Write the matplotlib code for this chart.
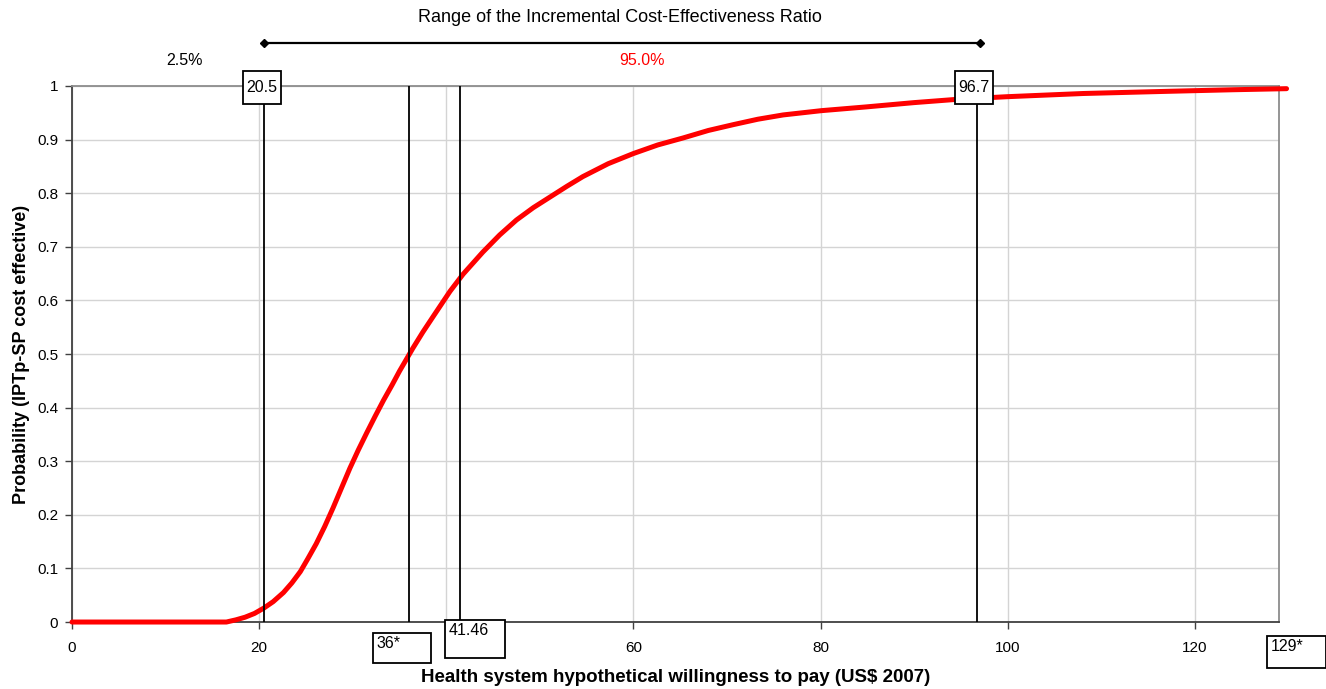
import matplotlib
matplotlib.use("Agg")
import matplotlib.pyplot as plt
from matplotlib.patches import Rectangle
from matplotlib.transforms import ScaledTranslation

plt.rcParams["font.family"] = ["Liberation Sans", "DejaVu Sans"]

# acceptability curve
wtp = [0, 16.5, 17.5, 18.5, 19.5, 20.5, 21.5, 22.6, 23.5, 24.4, 25.2, 26.1,
       27.0, 27.9, 28.8, 29.7, 30.6, 31.5, 32.4, 33.3, 34.2, 35.0, 36.4, 37.5,
       38.6, 40.4, 41.8, 43.9, 45.7, 47.5, 49.3, 51.1, 52.9, 54.6, 57.3, 60.0,
       62.6, 65.3, 68.0, 70.7, 73.3, 76.0, 80.1, 84.9, 90.0, 94.5, 99.9,
       108.1, 117.0, 124.1, 129.8]
prob = [0, 0, 0.004, 0.009, 0.016, 0.026, 0.038, 0.055, 0.073, 0.094, 0.118,
        0.146, 0.178, 0.213, 0.250, 0.287, 0.321, 0.353, 0.384, 0.414, 0.442,
        0.468, 0.510, 0.541, 0.570, 0.617, 0.649, 0.690, 0.722, 0.750, 0.773,
        0.793, 0.813, 0.831, 0.855, 0.874, 0.890, 0.903, 0.917, 0.928, 0.938,
        0.946, 0.954, 0.961, 0.969, 0.975, 0.980, 0.986, 0.990, 0.993, 0.995]

ci_low, ci_high = 20.5, 96.7
thresholds = [36, 41.46]
x_max = 129
x_ticks = [0, 20, 40, 60, 80, 100, 120]
x_ticklabels = ["0", "20", "", "60", "80", "100", "120"]
y_ticks = [0, 0.1, 0.2, 0.3, 0.4, 0.5, 0.6, 0.7, 0.8, 0.9, 1]
y_ticklabels = ["0", "0.1", "0.2", "0.3", "0.4", "0.5", "0.6", "0.7", "0.8", "0.9", "1"]

fig = plt.figure(figsize=(13.26, 6.89), dpi=100)
ax = fig.add_axes([0.0543, 0.0972, 0.9103, 0.7780])

ax.set_xlim(0, x_max)
ax.set_ylim(0, 1)
ax.set_xticks(x_ticks)
ax.set_xticklabels(x_ticklabels)
ax.set_yticks(y_ticks)
ax.set_yticklabels(y_ticklabels)
ax.tick_params(direction="out", length=5, width=1, color="#404040",
               labelsize=11, pad=9)
ax.tick_params(axis="y", pad=5)
ax.grid(True, color="#d4d4d4", lw=1)
ax.set_axisbelow(True)
for side in ["left", "bottom"]:
    ax.spines[side].set_color("#404040")
    ax.spines[side].set_linewidth(1.3)
for side in ["top", "right"]:
    ax.spines[side].set_color("#8c8c8c")
    ax.spines[side].set_linewidth(1.3)

ax.plot(wtp, prob, color="red", lw=3.6, solid_capstyle="round",
        solid_joinstyle="round", clip_on=False, zorder=3)

for xv in [ci_low, ci_high] + thresholds:
    ax.plot([xv, xv], [0, 1], color="black", lw=1.3, zorder=4)

ax.set_xlabel("Health system hypothetical willingness to pay (US$ 2007)",
              fontsize=13.5, fontweight="bold", labelpad=10)
ax.set_ylabel("Probability (IPTp-SP cost effective)",
              fontsize=13, fontweight="bold", labelpad=5)


def boxed_label(x, y, text, dx, dy, w, h, centered=False):
    # dx, dy, w, h are in pixels, relative to the data point (x, y)
    tr = ScaledTranslation(x, y, ax.transData)
    rect = Rectangle((dx, dy), w, h, transform=tr, facecolor="white",
                     edgecolor="black", lw=1.3, clip_on=False, zorder=6)
    ax.add_artist(rect)
    if centered:
        ax.text(dx + w / 2, dy + h / 2, text, transform=tr, ha="center",
                va="center", fontsize=11.5, zorder=7)
    else:
        ax.text(dx + 4, dy + h - 3, text, transform=tr, ha="left", va="top",
                fontsize=11.5, zorder=7)


boxed_label(ci_low, 1, "20.5", -21, -18, 38, 33, centered=True)
boxed_label(ci_high, 1, "96.7", -22, -18, 38, 33, centered=True)
boxed_label(thresholds[0], 0, "36*", -36, -41, 58, 30)
boxed_label(thresholds[1], 0, "41.46", -15, -36, 60, 38)
boxed_label(x_max, 0, "129*", -12, -46, 59, 32)

# range of the ICER above the plot
ax.plot([ci_low, ci_high + 0.3], [1.08, 1.08], color="black", lw=1.6,
        marker="D", ms=4, clip_on=False)
ax.text((ci_low + ci_high) / 2, 1.127, "Range of the Incremental Cost-Effectiveness Ratio",
        ha="center", va="center", fontsize=13)
ax.text(12, 1.047, "2.5%", ha="center", va="center", fontsize=11.5)
ax.text(60.9, 1.047, "95.0%", ha="center", va="center", fontsize=11.5,
        color="red")

fig.savefig("out.png", dpi=100)
